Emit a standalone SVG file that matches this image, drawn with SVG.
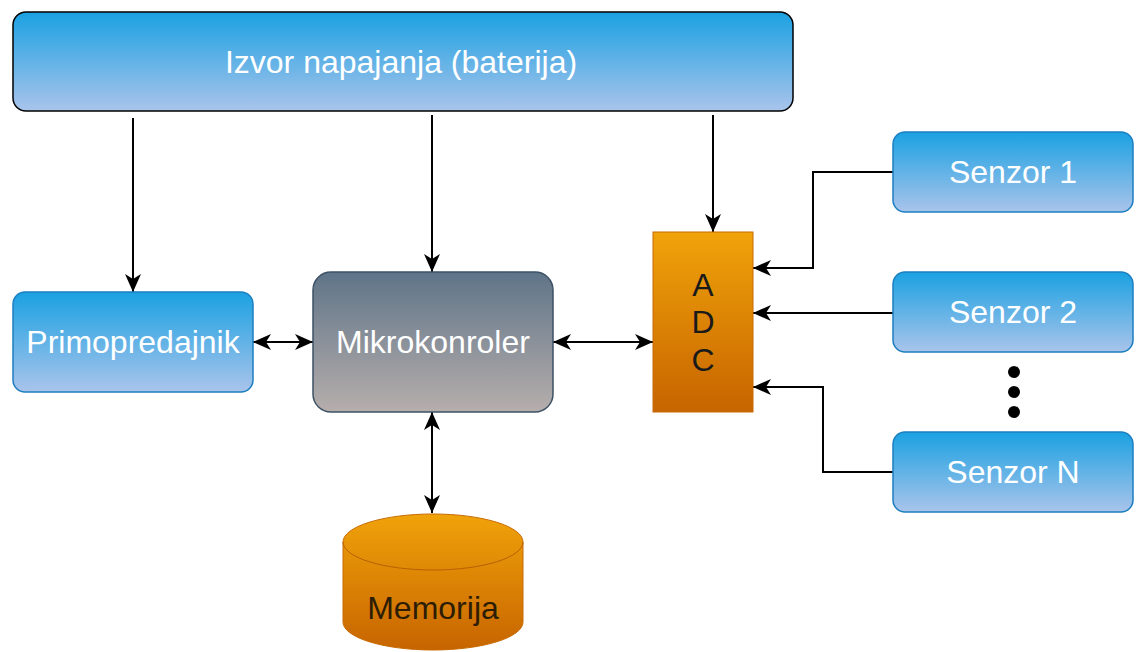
<svg xmlns="http://www.w3.org/2000/svg" width="1139" height="652" viewBox="0 0 1139 652">
<style>
.lbl{font-family:"Liberation Sans",Arial,sans-serif;font-size:32px;text-anchor:middle;dominant-baseline:central}
.w{fill:#ffffff}
.d{fill:#1a1a1a}
.blue{fill:url(#gBlue);stroke:#1d7fc0;stroke-width:1.5}
.conn{fill:none;stroke:#000;stroke-width:2}
</style>
<defs>
<linearGradient id="gBlue" x1="0" y1="0" x2="0" y2="1"><stop offset="0" stop-color="#1ba1e2"/><stop offset="1" stop-color="#a9c4eb"/></linearGradient>
<linearGradient id="gGrey" x1="0" y1="0" x2="0" y2="1"><stop offset="0" stop-color="#5f7488"/><stop offset="1" stop-color="#b6aeac"/></linearGradient>
<linearGradient id="gOrange" x1="0" y1="0" x2="0" y2="1"><stop offset="0" stop-color="#f0a30a"/><stop offset="1" stop-color="#c76400"/></linearGradient>
<marker id="arr" viewBox="0 0 18 16" refX="18" refY="8" markerWidth="18" markerHeight="16" markerUnits="userSpaceOnUse" orient="auto-start-reverse"><path d="M0,0 L18,8 L0,16 L5,8 Z" fill="#000"/></marker>
</defs>
<g id="connectors">
<path class="conn" d="M133,118 V292" marker-end="url(#arr)"/>
<path class="conn" d="M432,115 V272" marker-end="url(#arr)"/>
<path class="conn" d="M713,115 V232" marker-end="url(#arr)"/>
<path class="conn" d="M253,342 H313" marker-start="url(#arr)" marker-end="url(#arr)"/>
<path class="conn" d="M553,342 H653" marker-start="url(#arr)" marker-end="url(#arr)"/>
<path class="conn" d="M432,412 V513" marker-start="url(#arr)" marker-end="url(#arr)"/>
<path class="conn" d="M893,172 H813 V268 H753" marker-end="url(#arr)"/>
<path class="conn" d="M893,313 H753" marker-end="url(#arr)"/>
<path class="conn" d="M893,472 H823 V387 H753" marker-end="url(#arr)"/>
</g>
<g id="izvor">
<rect x="13" y="12" width="780" height="99" rx="13" fill="url(#gBlue)" stroke="#000" stroke-width="1.5"/>
<text class="lbl w" x="401" y="62">Izvor napajanja (baterija)</text>
</g>
<g id="primopredajnik">
<rect class="blue" x="13" y="292" width="240" height="100" rx="12"/>
<text class="lbl w" x="133" y="342">Primopredajnik</text>
</g>
<g id="mikrokontroler">
<rect x="313" y="272" width="240" height="140" rx="18" fill="url(#gGrey)" stroke="#3d5266" stroke-width="1.5"/>
<text class="lbl w" x="433" y="342">Mikrokonroler</text>
</g>
<g id="adc">
<rect x="653" y="232" width="100" height="180" fill="url(#gOrange)" stroke="#c86a00" stroke-width="1"/>
<text class="lbl d" x="703" y="285">A</text>
<text class="lbl d" x="703" y="322">D</text>
<text class="lbl d" x="703" y="360">C</text>
</g>
<g id="senzor1">
<rect class="blue" x="893" y="132" width="240" height="80" rx="12"/>
<text class="lbl w" x="1013" y="172">Senzor 1</text>
</g>
<g id="senzor2">
<rect class="blue" x="893" y="272" width="240" height="80" rx="12"/>
<text class="lbl w" x="1013" y="312">Senzor 2</text>
</g>
<g id="senzorN">
<rect class="blue" x="893" y="432" width="240" height="80" rx="12"/>
<text class="lbl w" x="1013" y="472">Senzor N</text>
</g>
<g id="dots" fill="#000">
<circle cx="1014" cy="372" r="6"/>
<circle cx="1014" cy="392" r="6"/>
<circle cx="1014" cy="412" r="6"/>
</g>
<g id="memorija">
<path d="M343,542 A90,28 0 0 1 523,542 V622 A90,28 0 0 1 343,622 Z" fill="url(#gOrange)" stroke="#c86a00" stroke-width="1"/>
<path d="M343,542 A90,28 0 0 0 523,542" fill="none" stroke="#b86000" stroke-width="1"/>
<text class="lbl" x="433" y="608" fill="#2e1d05">Memorija</text>
</g>
</svg>
